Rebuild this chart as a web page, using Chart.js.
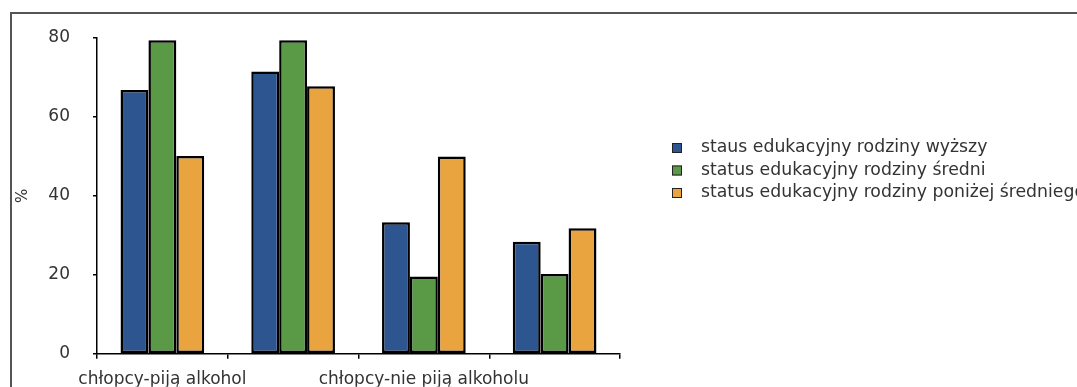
<!DOCTYPE html>
<html>
<head>
<meta charset="utf-8">
<script src="https://cdn.jsdelivr.net/npm/chart.js@4/dist/chart.umd.min.js"></script>
<style>
    html, body { margin: 0; padding: 0; background: #fff; overflow: hidden; }
    #wrap { position: relative; width: 1077px; height: 387px; }
    #frame { position: absolute; left: 10px; top: 12px; width: 1200px; height: 500px;
             border-top: 2px solid #555; border-left: 2px solid #555; }
    #chart { position: absolute; left: 0; top: 0; }
</style>
</head>
<body>
<div id="wrap">
    <div id="frame"></div>
    <canvas id="chart" width="1077" height="387"></canvas>
</div>
<script>
// categories (labels of groups 2 and 4 are not shown in the picture)
let categories = ["chłopcy-piją alkohol", "", "chłopcy-nie piją alkoholu", ""];
let seriesNames = [
    "staus edukacyjny rodziny wyższy",
    "status edukacyjny rodziny średni",
    "status edukacyjny rodziny poniżej średniego"
];
let wyzszy = [66.8, 71.5, 33.3, 28.4];
let sredni = [79.4, 79.4, 19.6, 20.2];
let ponizej = [50.1, 67.8, 50.0, 31.8];
let yTicks = [0, 20, 40, 60, 80];

let colors = ["#2d5690", "#5a9a46", "#e9a43f"];
let fontFamily = "'DejaVu Sans', sans-serif";

// legend drawn by hand so it can sit where the original put it
let sideLegend = {
    id: "sideLegend",
    afterDraw: function(chart) {
        let ctx = chart.ctx;
        ctx.save();
        ctx.font = "17.3px " + fontFamily;
        ctx.textBaseline = "middle";
        chart.data.datasets.forEach(function(ds, i) {
            let y = 148 + i * 22.5;
            ctx.fillStyle = ds.backgroundColor;
            ctx.fillRect(672, y - 5, 10, 10);
            ctx.strokeStyle = "#222";
            ctx.lineWidth = 1;
            ctx.strokeRect(672.5, y - 4.5, 9, 9);
            ctx.fillStyle = "#333";
            ctx.fillText(ds.label, 701, y);
        });
        ctx.restore();
    }
};

let ctx = document.getElementById("chart");
let chart = new Chart(ctx, {
    type: "bar",
    data: {
        labels: categories,
        datasets: [wyzszy, sredni, ponizej].map(function(values, i) {
            return {
                label: seriesNames[i],
                data: values,
                backgroundColor: colors[i],
                borderColor: "#000",
                borderWidth: 2.5,
                borderSkipped: false,
                barPercentage: 1.0,
                categoryPercentage: 0.64
            };
        })
    },
    options: {
        responsive: false,
        animation: false,
        layout: { padding: { left: 0, top: 38, right: 457, bottom: 0 } },
        plugins: {
            legend: { display: false },
            tooltip: { enabled: false }
        },
        scales: {
            x: {
                grid: { offset: true, drawOnChartArea: false, drawTicks: true, tickLength: 5, color: "#000", lineWidth: 1.5 },
                border: { display: true, color: "#000", width: 1.5 },
                ticks: {
                    autoSkip: false, maxRotation: 0, padding: 11,
                    color: "#333", font: { family: fontFamily, size: 17 }
                },
                afterFit: function(scale) { scale.height = 33; }
            },
            y: {
                min: 0, max: 80,
                afterBuildTicks: function(scale) {
                    scale.ticks = yTicks.map(function(v) { return { value: v }; });
                },
                grid: { drawOnChartArea: false, drawTicks: true, tickLength: 4, color: "#000", lineWidth: 1.5 },
                border: { display: true, color: "#000", width: 1.5 },
                ticks: { padding: 23, color: "#333", font: { family: fontFamily, size: 17 } },
                title: {
                    display: true, text: "%", color: "#333",
                    font: { family: fontFamily, size: 15 },
                    padding: { top: 14, bottom: 0 }
                },
                afterFit: function(scale) { scale.width = 97; }
            }
        }
    },
    plugins: [sideLegend]
});
</script>
</body>
</html>
